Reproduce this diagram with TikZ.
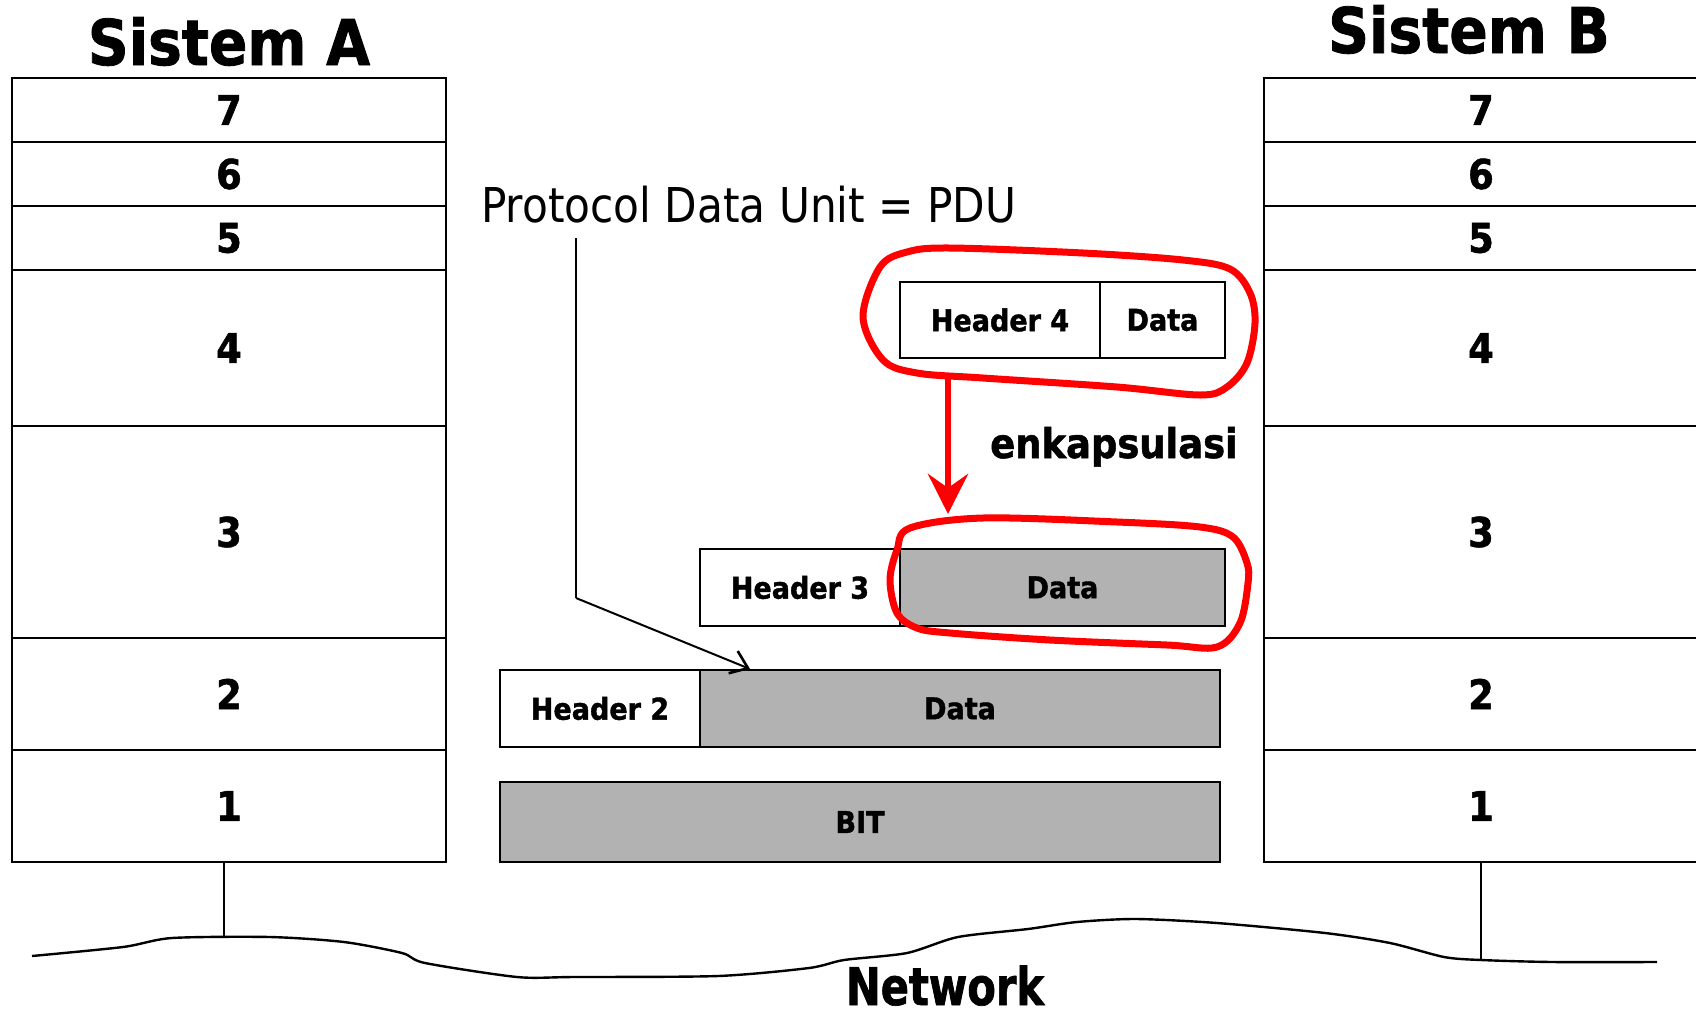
\documentclass[tikz,border=0pt]{standalone}
\usepackage{fontspec}
\setmainfont{DejaVu Sans}
\newfontfamily\tahb{DejaVu Sans}[FakeStretch=0.9, BoldFeatures={FakeBold=1.3}]
\newfontfamily\tahr{DejaVu Sans}[FakeStretch=0.88]
\newfontfamily\netf{DejaVu Sans}[FakeStretch=0.8, BoldFeatures={FakeBold=1.3}]
\usetikzlibrary{arrows.meta}
\definecolor{pdugray}{RGB}{178,178,178}
\definecolor{encred}{RGB}{255,0,0}
\begin{document}
\begin{tikzpicture}[x=1pt,y=-1pt,
  title/.style={font=\tahb\bfseries\fontsize{63}{70}\selectfont, anchor=base, inner sep=0pt},
  layer/.style={draw, line width=2pt, minimum width=434pt, inner sep=0pt, font=\tahb\bfseries\fontsize{41}{46}\selectfont},
  pdubox/.style={draw, line width=2.2pt, inner sep=0pt, font=\tahb\bfseries\fontsize{30}{34}\selectfont},
  hdr/.style={pdubox, fill=white},
  dat/.style={pdubox, fill=pdugray},
  redloop/.style={draw=encred, line width=7pt},
  redarrow/.style={draw=encred, line width=6.5pt, -{Stealth[length=40pt,width=40pt,inset=14pt]}},
  thin/.style={line width=2pt},
  pduarrow/.style={line width=2pt, -{Straight Barb[length=16pt,width=24pt,line width=2.6pt]}}
]
\useasboundingbox (0,0) rectangle (1696,1017);
\clip (0,0) rectangle (1696,1017);
\fill[white] (0,0) rectangle (1696,1017);

% titles
\node[title] (tA) at (229,65) {Sistem A};
\node[title] (tB) at (1469,53) {Sistem B};

% stack A
\node[layer, minimum height=64pt]  (a7) at (229,110) {7};
\node[layer, minimum height=64pt]  (a6) at (229,174) {6};
\node[layer, minimum height=64pt]  (a5) at (229,238) {5};
\node[layer, minimum height=156pt] (a4) at (229,348) {4};
\node[layer, minimum height=212pt] (a3) at (229,532) {3};
\node[layer, minimum height=112pt] (a2) at (229,694) {2};
\node[layer, minimum height=112pt] (a1) at (229,806) {1};

% stack B
\node[layer, minimum height=64pt]  (b7) at (1481,110) {7};
\node[layer, minimum height=64pt]  (b6) at (1481,174) {6};
\node[layer, minimum height=64pt]  (b5) at (1481,238) {5};
\node[layer, minimum height=156pt] (b4) at (1481,348) {4};
\node[layer, minimum height=212pt] (b3) at (1481,532) {3};
\node[layer, minimum height=112pt] (b2) at (1481,694) {2};
\node[layer, minimum height=112pt] (b1) at (1481,806) {1};

% PDU label
\node[font=\tahr\fontsize{48}{54}\selectfont, anchor=base west, inner sep=0pt] (pdu) at (481,222) {Protocol Data Unit = PDU};

% PDU rows
\node[hdr, minimum width=200pt, minimum height=76pt] (h4) at (1000,320) {Header 4};
\node[hdr, minimum width=125pt, minimum height=76pt] (d4) at (1162.5,320) {Data};

\node[hdr, minimum width=200pt, minimum height=77pt] (h3) at (800,587.5) {Header 3};
\node[dat, minimum width=325pt, minimum height=77pt] (d3) at (1062.5,587.5) {Data};

\node[hdr, minimum width=200pt, minimum height=77pt] (h2) at (600,708.5) {Header 2};
\node[dat, minimum width=520pt, minimum height=77pt] (d2) at (960,708.5) {Data};

\node[dat, minimum width=720pt, minimum height=80pt] (bit) at (860,822) {BIT};

% PDU pointer
\coordinate (pdutop) at (576,238);
\coordinate (pducorner) at (576,598);
\coordinate (pdutip) at (750,669);
\draw[thin] (pdutop) -- (pducorner);
\draw[pduarrow] (pducorner) -- (pdutip);

% red loops
\draw[redloop] plot[smooth cycle, tension=0.55] coordinates {
  (863,317) (880,267) (907,252) (950,248) (1083,253) (1183,260) (1230,269)
  (1250,293) (1255,323) (1247,363) (1227,387) (1200,395) (1117,387)
  (983,378) (917,373) (883,360)};
\draw[redloop] plot[smooth cycle, tension=0.55] coordinates {
  (910,528) (983,518) (1117,522) (1200,527) (1233,537) (1247,563)
  (1248,583) (1240,623) (1217,647) (1167,645) (1050,640) (950,633)
  (917,628) (897,613) (890,580) (897,550)};

% encapsulation arrow
\coordinate (encA) at (948,378);
\coordinate (encB) at (948,514);
\draw[redarrow] (encA) -- (encB);
\node[font=\tahb\bfseries\fontsize{41}{46}\selectfont, anchor=base, inner sep=0pt] (enc) at (1114,458) {enkapsulasi};

% network
\draw[line width=2.4pt] plot[smooth, tension=0.45] coordinates {
  (32,956) (123,947) (172,938) (270,937) (344,942) (402,953) (425,963)
  (517,977) (574,977) (718,976) (809,968) (844,960) (907,953) (958,937)
  (1028,929) (1077,922) (1136,919) (1217,923) (1325,933) (1390,943)
  (1444,957) (1481,960) (1552,962) (1657,962)};
\coordinate (netA) at (224,937);
\coordinate (netB) at (1481,961);
\draw[thin] (a1.south -| netA) -- (netA);
\draw[thin] (b1.south) -- (netB);
\node[font=\netf\bfseries\fontsize{52}{58}\selectfont, anchor=base, inner sep=0pt] (net) at (945,1005) {Network};
\end{tikzpicture}
\end{document}
